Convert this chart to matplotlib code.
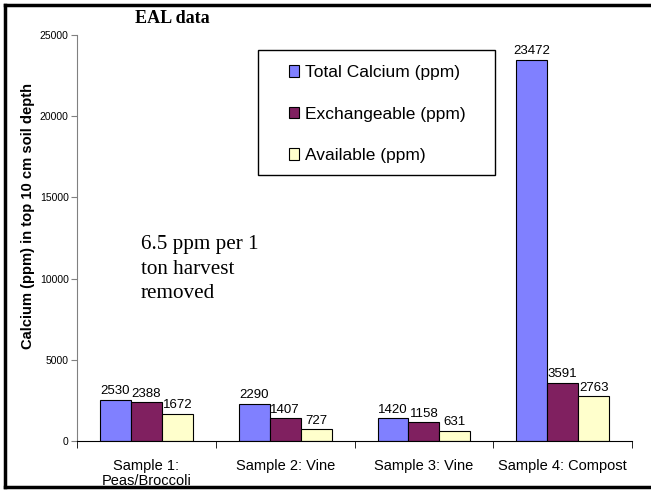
import numpy as np
import matplotlib
matplotlib.use("Agg")
import matplotlib.pyplot as plt
from matplotlib.lines import Line2D
from matplotlib.patches import Rectangle

samples = ["Sample 1:\nPeas/Broccoli", "Sample 2: Vine", "Sample 3: Vine", "Sample 4: Compost"]
total_ca = [2530, 2290, 1420, 23472]
exchangeable = [2388, 1407, 1158, 3591]
available = [1672, 727, 631, 2763]
series_names = ["Total Calcium (ppm)", "Exchangeable (ppm)", "Available (ppm)"]
colors = ["#8080FF", "#802060", "#FFFFCC"]

plt.rcParams['font.family'] = ['Liberation Sans', 'DejaVu Sans']

fig = plt.figure(figsize=(6.51, 4.90), dpi=100)
ax = fig.add_axes([0.1183, 0.1, 0.8527, 0.8286])

x = np.arange(len(samples))
w = 0.223
for i, vals in enumerate([total_ca, exchangeable, available]):
    bars = ax.bar(x + (i - 1) * w, vals, w, color=colors[i], edgecolor="black",
                  linewidth=0.8, label=series_names[i])
    for b, v in zip(bars, vals):
        ax.text(b.get_x() + b.get_width() / 2, v + 150, str(v), ha="center",
                va="bottom", fontsize=9.5)

ax.set_xlim(-0.5, 3.5)
ax.set_ylim(0, 25000)
ax.set_yticks([0, 5000, 10000, 15000, 20000, 25000])
ax.tick_params(axis="y", labelsize=7.5, length=4, color="#808080", pad=2)
ax.set_xticks(x)
ax.set_xticklabels(samples, fontsize=10.5, linespacing=1.05)
ax.tick_params(axis="x", length=0, pad=13)
ax.set_xticks(np.arange(-0.5, 4, 1), minor=True)
ax.tick_params(axis="x", which="minor", length=5, color="black")

for s in ["top", "right"]:
    ax.spines[s].set_visible(False)
ax.spines["left"].set_color("#808080")
ax.spines["bottom"].set_color("black")

ax.set_ylabel("Calcium (ppm) in top 10 cm soil depth", fontsize=10.6,
              fontweight="bold")
ax.yaxis.set_label_coords(-0.075, 0.553)

fig.text(0.265, 0.963, "EAL data", fontsize=13, fontweight="bold",
         family=["Liberation Serif"], ha="center", va="center")

ax.text(0.115, 0.507, "6.5 ppm per 1\nton harvest\nremoved", transform=ax.transAxes,
        fontsize=15.2, family=["Liberation Serif"], va="top", ha="left", linespacing=1.4)

# legend box drawn separately, entries placed inside without their own frame
ax.add_patch(Rectangle((0.326, 0.655), 0.427, 0.308, transform=ax.transAxes,
                       facecolor="white", edgecolor="black", linewidth=1.0,
                       zorder=4, clip_on=False))
leg = ax.legend(loc="upper left", bbox_to_anchor=(0.381, 0.926),
                fontsize=12.5, frameon=False, handlelength=0.62, handleheight=0.62,
                handletextpad=0.35, labelspacing=1.53, borderpad=0,
                borderaxespad=0)
leg.set_zorder(5)
for h in leg.legend_handles:
    h.set_linewidth(0.8)

# figure border (left, top, bottom)
lw = 2.5
fig.add_artist(Line2D([0.007, 0.007], [0.006, 0.99], transform=fig.transFigure, color="black", lw=lw))
fig.add_artist(Line2D([0.007, 1.0], [0.99, 0.99], transform=fig.transFigure, color="black", lw=lw))
fig.add_artist(Line2D([0.007, 1.0], [0.006, 0.006], transform=fig.transFigure, color="black", lw=lw))

fig.savefig("out.png", dpi=100)
